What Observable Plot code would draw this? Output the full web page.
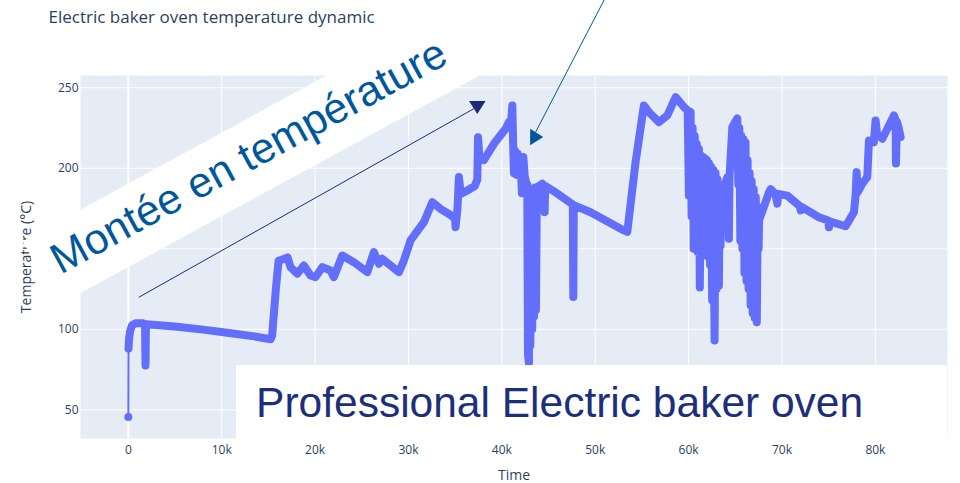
<!DOCTYPE html>
<html>
<head>
<meta charset="utf-8">
<script src="https://cdn.jsdelivr.net/npm/d3@7"></script>
<script src="https://cdn.jsdelivr.net/npm/@observablehq/plot@0.6"></script>
<style>
  body { margin: 0; background: #fff; }
</style>
</head>
<body>
<div id="chart"></div>
<script>
// ---- data ----
const times = [
  0, 20, 80, 200, 400, 800, 1500, 1790, 1842, 1890,
  5000, 8000, 11000, 13500, 15230, 15400, 15800, 16090, 16510, 17050,
  17370, 18090, 18800, 19510, 20050, 20770, 21660, 22010, 22910, 24150,
  25590, 26290, 26830, 27190, 28970, 29510, 30220, 31650, 32550, 33500,
  34510, 35000, 35040, 35250, 35400, 35600, 36300, 37100, 37370, 37450,
  37600, 38070, 39150, 40400, 40750, 41000, 41120, 41220, 41300, 41400,
  41550, 41700, 41850, 42000, 42150, 42250, 42300, 42450, 42600, 42720,
  42800, 42900, 42960, 43050, 43150, 43250, 43350, 43450, 43550, 43650,
  43750, 44330, 44500, 44580, 44650, 45500, 47600, 47650, 47700, 49500,
  53070, 53430, 54300, 55210, 55750, 56820, 57720, 58610, 59490, 59900,
  60030, 60100, 60210, 60320, 60430, 60540, 60650, 60760, 60870, 60980,
  61100, 61200, 61300, 61420, 61530, 61640, 61750, 61860, 61970, 62080,
  62190, 62300, 62410, 62520, 62630, 62780, 62880, 62990, 63100, 63240,
  63330, 63420, 63500, 63900, 64140, 64250, 64310, 64380, 64680, 65000,
  65210, 65320, 65430, 65540, 65650, 65760, 65870, 65980, 66090, 66200,
  66310, 66420, 66530, 66640, 66750, 66860, 66970, 67080, 67190, 67300,
  67400, 67490, 67550, 68060, 68600, 68780, 69300, 69500, 69600, 70570,
  71900, 72000, 72100, 73950, 74950, 75030, 75100, 76810, 77700, 77880,
  77990, 78100, 78600, 79130, 79310, 79840, 80020, 80200, 80380, 80740,
  81280, 81980, 82160, 82200, 82300, 82500, 82700
];
const temps = [
  45.5, 88, 94, 99, 102.5, 103.8, 103.8, 103.3, 77.6, 103.2,
  101.8, 99.8, 97.6, 95.6, 93.8, 96, 125, 142.5, 143.4, 144.6,
  138.6, 134.5, 139.6, 133.4, 132.4, 138.6, 136.5, 132.4, 145.8, 141.7,
  135.5, 147.9, 140.7, 143.8, 135.5, 142.7, 155.2, 166.5, 178.9, 174.5,
  171, 168.5, 163.4, 175, 194.5, 184, 186.2, 189, 193, 219.3,
  206, 205, 215.2, 224.5, 228.6, 230, 239, 212, 197, 211,
  196, 209, 197, 204, 184.5, 200, 207, 195, 191, 190,
  84, 79, 185, 90, 186, 100, 187, 108, 188, 112,
  188, 190.4, 189.5, 172.7, 189, 186, 177.5, 120, 177, 172.7,
  161.4, 160.5, 203, 239, 234.8, 228.6, 232.8, 244.2, 238, 236,
  183, 234, 235, 170, 225, 150, 220, 152, 215, 148,
  212, 126, 208, 150, 207, 148, 206, 146, 205, 145,
  203, 140, 201, 118, 199, 93, 197, 125, 193, 127,
  189, 152, 186, 190, 194.5, 195, 156.2, 195, 225.5, 229,
  231, 190, 225, 155, 220, 150, 218, 135, 216, 130,
  205, 125, 197, 115, 192, 110, 187, 107, 182, 104.4,
  176, 150, 168, 176, 185, 187, 184, 178, 184, 183,
  176.5, 173.8, 176, 169.6, 167.5, 163.4, 167, 164, 172.7, 183,
  197.6, 185, 190.4, 194.5, 217.3, 216.2, 229.7, 220, 220.4, 218.3,
  224.5, 232.8, 230, 203, 229, 225, 219.3
];
const xTicks = [0, 10000, 20000, 30000, 40000, 50000, 60000, 70000, 80000];
const yTicks = [50, 100, 150, 200, 250];

const titleText = "Electric baker oven temperature dynamic";
const xLabel = "Time";
const yLabel = "Temperature (°C)";

// annotations (data coordinates, as in the original)
const bandLabel = "Montée en température";
const bandX = 13090, bandY = 205.5, bandAngle = -28.6;
const boxLabel = "Professional Electric baker oven";
const boxX = 11590, boxY = 77.5;
const arrowX1 = [1125, 51480];
const arrowY1 = [119.9, 310.4];
const arrowX2 = [37000, 43610];
const arrowY2 = [237, 222.4];
const headX = [37370, 43500];
const headY = [239.1, 219.4];
const headRotate = [180, 90];
const arrowColors = ["#1c2a78", "#00589c"];

// ---- build ----
const rows = times.map((t, i) => ({t, T: temps[i]}));
const arrows = arrowX1.map((x1, i) => ({
  x1, y1: arrowY1[i], x2: arrowX2[i], y2: arrowY2[i],
  hx: headX[i], hy: headY[i], rot: headRotate[i], color: arrowColors[i]
}));

const headSymbol = {
  draw(context) {
    context.moveTo(0, -8.7);
    context.lineTo(8.3, 4.4);
    context.lineTo(-8.3, 4.4);
    context.closePath();
  }
};

const W = 960, H = 483, ML = 80, MR = 13, MT = 75, MB = 45;
const fmt = d => d === 0 ? "0" : (d / 1000) + "k";
const ink = "#2a3f5f";
const trace = "#636efa";

const chart = Plot.plot({
  width: W, height: H,
  marginLeft: ML, marginRight: MR, marginTop: MT, marginBottom: MB,
  style: {background: "white", fontFamily: "'Open Sans', sans-serif"},
  x: {domain: [-5120, 87720], label: null},
  y: {domain: [32.2, 257.6], label: null},
  marks: [
    Plot.frame({fill: "#e5ecf6", stroke: "none"}),
    Plot.gridX(xTicks, {stroke: "white", strokeOpacity: 1, strokeWidth: 1}),
    Plot.gridY(yTicks, {stroke: "white", strokeOpacity: 1, strokeWidth: 1}),
    Plot.ruleX([0], {stroke: "white", strokeWidth: 2}),
    Plot.axisX({ticks: xTicks, tickFormat: fmt, tickSize: 0, tickPadding: 7, fontSize: 12, fill: ink, label: null}),
    Plot.axisY({ticks: yTicks, tickSize: 0, tickPadding: 2, fontSize: 12, fill: ink, label: null}),
    Plot.line(rows, {x: "t", y: "T", stroke: trace, strokeWidth: 2}),
    Plot.line(rows.slice(1), {x: "t", y: "T", stroke: trace, strokeWidth: 8, strokeLinejoin: "round", strokeLinecap: "round"}),
    Plot.dot(rows.slice(0, 1), {x: "t", y: "T", r: 4, fill: trace}),
    Plot.link(arrows, {x1: "x1", y1: "y1", x2: "x2", y2: "y2", stroke: "color", strokeWidth: 1}),
    Plot.dot(arrows, {x: "hx", y: "hy", fill: "color", symbol: headSymbol, r: 6, rotate: "rot", stroke: null}),
    Plot.text([titleText], {text: d => d, frameAnchor: "top-left", dx: -32, dy: -58, textAnchor: "start", lineAnchor: "middle", fontSize: 17, fill: ink}),
    Plot.text([xLabel], {text: d => d, frameAnchor: "bottom", dy: 37, textAnchor: "middle", lineAnchor: "middle", fontSize: 14, fill: ink}),
    Plot.text([yLabel], {text: d => d, frameAnchor: "left", dx: -53.5, rotate: -90, textAnchor: "middle", lineAnchor: "middle", fontSize: 14, fill: ink})
  ]
});

// overlay annotations positioned through the chart's own scales
const sx = chart.scale("x"), sy = chart.scale("y");
const svg = d3.select(chart);
const band = svg.append("g")
  .attr("transform", `translate(${sx.apply(bandX)},${sy.apply(bandY)}) rotate(${bandAngle})`);
band.append("rect")
  .attr("x", -239).attr("y", -36.6).attr("width", 478).attr("height", 73.2)
  .attr("fill", "white");
band.append("text")
  .attr("text-anchor", "middle").attr("dy", 11)
  .attr("font-family", "'Liberation Sans', Arial, sans-serif")
  .attr("font-size", 42.7).attr("fill", "#00589c")
  .text(bandLabel);

const bx = sx.apply(boxX), by = sy.apply(boxY);
svg.append("rect")
  .attr("x", bx).attr("y", by)
  .attr("width", W - MR - bx).attr("height", H - MB + 1 - by)
  .attr("fill", "white");
svg.append("text")
  .attr("x", bx + 20).attr("y", by + 52)
  .attr("text-anchor", "start")
  .attr("font-family", "'Liberation Sans', Arial, sans-serif")
  .attr("font-size", 42.5).attr("fill", "#1d2f7a")
  .text(boxLabel);

document.getElementById("chart").appendChild(chart);
</script>
</body>
</html>
